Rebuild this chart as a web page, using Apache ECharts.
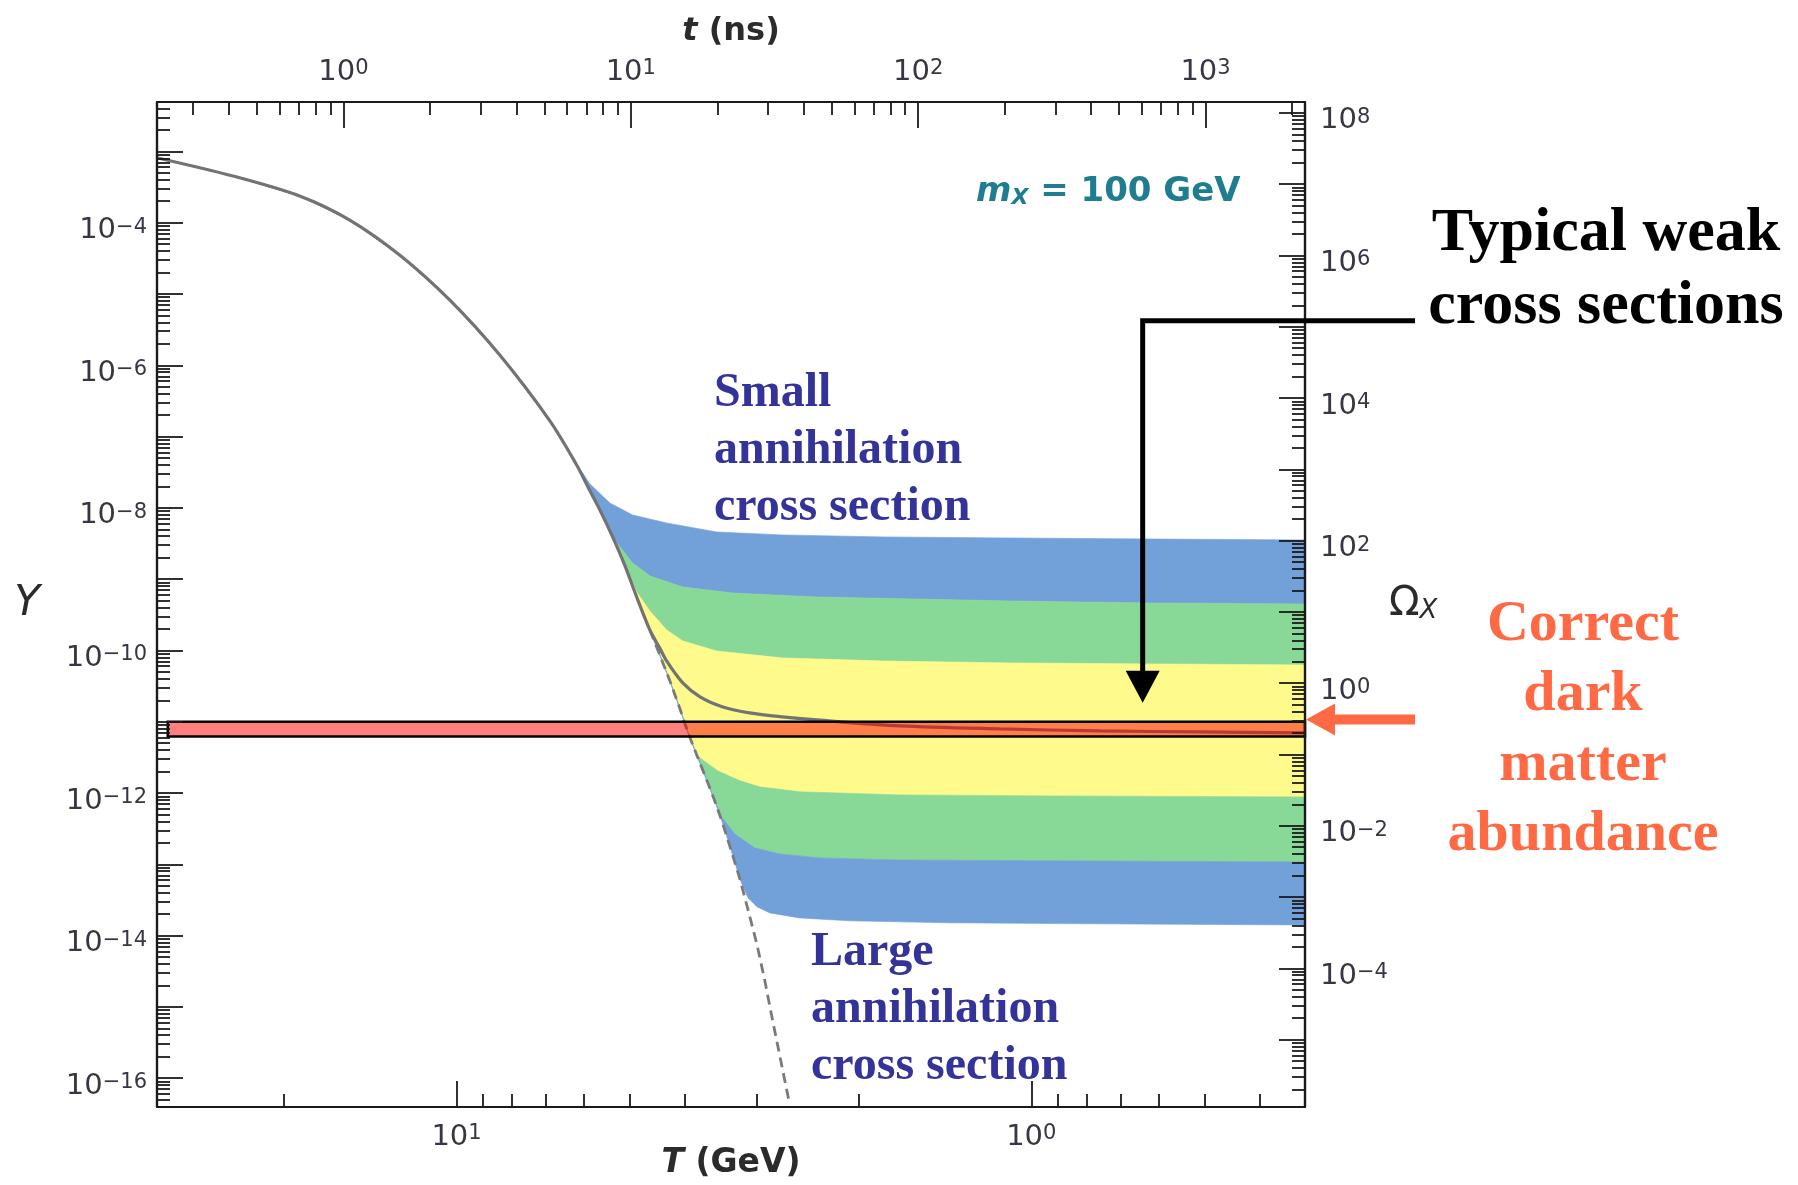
<!DOCTYPE html>
<html>
<head>
<meta charset="utf-8">
<script src="https://cdn.jsdelivr.net/npm/echarts@6/dist/echarts.min.js"></script>
<style>html,body{margin:0;padding:0;background:#fff}#chart{width:1798px;height:1185px}</style>
</head>
<body>
<div id="chart"></div>
<script>
// ---------------- data ----------------
// Equilibrium abundance Y_eq(T): [T (GeV), Y]
const equilibrium = [
  [33.1, 8.08e-4], [24.5, 4.52e-4], [18.75, 2.37e-4], [15.34, 1.09e-4], [12.56, 3.52e-5],
  [10.28, 8.24e-6], [8.41, 1.39e-6], [6.88, 1.66e-7], [6.18, 4.0e-8], [5.87, 1.78e-8],
  [5.63, 9.34e-9], [5.37, 4.17e-9], [5.10, 1.58e-9], [4.86, 5.63e-10], [4.61, 1.94e-10],
  [4.43, 8.65e-11], [4.26, 3.86e-11], [4.09, 1.56e-11], [3.96, 7.19e-12], [3.82, 3.42e-12],
  [3.70, 1.79e-12], [3.57, 8.54e-13], [3.45, 3.93e-13], [3.33, 1.59e-13], [3.21, 6.04e-14],
  [3.11, 2.29e-14], [3.00, 7.41e-15], [2.91, 2.39e-15], [2.82, 6.57e-16], [2.73, 1.81e-16],
  [2.64, 4.80e-17]
];
// Freeze-out tails (after leaving equilibrium), smallest cross section first
const tailC0 = [[6.0,2.9e-8],[5.87,2.2e-8],[5.41,1.17e-8],[4.94,7.95e-9],[4.31,6.14e-9],[3.53,4.59e-9],[2.71,4.17e-9],[1.81,3.91e-9],[1.09,3.78e-9],[0.622,3.66e-9],[0.334,3.55e-9]];
const tailC1 = [[5.26,3.22e-9],[4.94,1.69e-9],[4.61,1.11e-9],[4.04,7.77e-10],[3.31,6.40e-10],[2.36,5.63e-10],[1.09,4.95e-10],[0.622,4.64e-10],[0.334,4.49e-10]];
const tailC2 = [[4.86,6.61e-10],[4.61,3.58e-10],[4.31,1.94e-10],[4.04,1.36e-10],[3.53,9.84e-11],[2.71,7.85e-11],[1.81,7.12e-11],[1.09,6.68e-11],[0.622,6.47e-11],[0.334,6.26e-11]];
const tailC3 = [[4.43,1.08e-10],[4.31,7.12e-11],[4.04,3.50e-11],[3.77,2.23e-11],[3.44,1.61e-11],[3.09,1.33e-11],[2.71,1.17e-11],[2.36,1.06e-11],[1.69,8.73e-12],[1.134,7.93e-12],[0.760,7.43e-12],[0.509,7.19e-12],[0.334,6.96e-12]];
const tailC4 = [[3.73,2.91e-12],[3.51,2.04e-12],[3.21,1.48e-12],[2.97,1.22e-12],[2.53,1.04e-12],[1.69,9.41e-13],[0.928,9.11e-13],[0.334,8.82e-13]];
const tailC5 = [[3.45,4.48e-13],[3.28,2.67e-13],[3.03,1.70e-13],[2.74,1.40e-13],[2.33,1.23e-13],[1.69,1.15e-13],[0.928,1.12e-13],[0.334,1.08e-13]];
const tailC6 = [[3.11,3.38e-14],[3.00,2.53e-14],[2.85,2.08e-14],[2.53,1.77e-14],[2.07,1.61e-14],[1.386,1.51e-14],[0.760,1.46e-14],[0.334,1.41e-14]];
const departureT = 4.61;            // where the highlighted curve leaves equilibrium

// Correct abundance band
const redBandT = [31.8, 0.334];
const redBandY = [1.0e-11, 6.2e-12];

// Annotation anchors (data space)
const weakArrowT = 0.64;
const weakArrowY = [4.2e-6, 1.84e-11];
const abundanceArrowY = 1.07e-11;

// Axes
const TRange = [0.334, 33.2];          // GeV (axis runs high -> low)
const YRange = [3.94e-17, 4.93e-3];
const omegaPerY = 2.88e10;             // Omega_X = omegaPerY * Y
const tAt1GeV = 247.5;                 // t (ns) at T = 1 GeV, t ~ T^-2
const TLabelValues = [1, 10];
const TMinorTicks = [0.4,0.5,0.6,0.7,0.8,0.9,2,3,4,5,6,7,8,9,20];
const tLabelValues = [1, 10, 100, 1000];
const YLabelExps = [-16, -14, -12, -10, -8, -6, -4];
const omegaLabelExps = [-4, -2, 0, 2, 4, 6, 8];

// ---------------- build ----------------
const L = Math.log10;
const toLog = pts => pts.map(p => [L(p[0]), L(p[1])]);
const buildCurve = tail => equilibrium.filter(p => p[0] > tail[0][0]).concat(tail);
const curves = [tailC0, tailC1, tailC2, tailC3, tailC4, tailC5, tailC6].map(buildCurve).map(toLog);
const dashedEq = toLog(equilibrium.filter(p => p[0] <= departureT));

const BLUE = '#72A0D8', GREEN = '#88D898', YELLOW = '#FEFA8C';
const bands = [
  {upper: 0, lower: 1, color: BLUE},
  {upper: 1, lower: 2, color: GREEN},
  {upper: 2, lower: 4, color: YELLOW},
  {upper: 4, lower: 5, color: GREEN},
  {upper: 5, lower: 6, color: BLUE}
];

function logTicks(minLog, maxLog, withMajor) {
  const out = [];
  for (let n = Math.floor(minLog) - 1; n <= Math.ceil(maxLog); n++) {
    const ks = withMajor ? [1] : [2,3,4,5,6,7,8,9];
    ks.forEach(k => { const v = n + L(k); if (v >= minLog - 1e-9 && v <= maxLog + 1e-9) out.push(v); });
  }
  return out;
}

const xMin = L(TRange[0]), xMax = L(TRange[1]);
const yMin = L(YRange[0]), yMax = L(YRange[1]);
const oShift = L(omegaPerY);
const tMin = L(tAt1GeV) - 2 * xMax, tMax = L(tAt1GeV) - 2 * xMin;

const FONT = '"DejaVu Sans", "Noto Sans", sans-serif';
const SERIF = '"Liberation Serif", "Times New Roman", serif';
const LABEL_COLOR = '#363644';
const AXIS_COLOR = '#1a1a1a';
const fmtExp = v => { const n = Math.round(v); return n < 0 ? '\u2212' + (-n) : String(n); };
const richLabel = {
  b: {fontSize: 29, lineHeight: 28, fontFamily: FONT, color: LABEL_COLOR},
  s: {fontSize: 21, lineHeight: 8, verticalAlign: 'top', fontFamily: FONT, color: LABEL_COLOR}
};
const powLabel = v => '{b|10}{s|' + fmtExp(v) + '}';

function axis(opts) {
  const major = opts.major;
  const base = {
    type: 'value', min: opts.min, max: opts.max, inverse: !!opts.inverse, position: opts.position,
    z: 10, scale: true, nameMoveOverlap: false,
    axisLine: {show: true, onZero: false, lineStyle: {color: AXIS_COLOR, width: 2.2}},
    axisTick: {show: true, inside: true, length: major ? 26 : 13, customValues: opts.ticks,
               lineStyle: {color: AXIS_COLOR, width: 1.8}},
    axisLabel: major ? {show: true, customValues: opts.labels, margin: opts.margin, formatter: powLabel,
                        fontSize: 29, fontFamily: FONT, color: LABEL_COLOR,
                        rich: richLabel, padding: opts.labelPadding || 0} : {show: false},
    splitLine: {show: false}, minorTick: {show: false}
  };
  if (opts.name) Object.assign(base, opts.name);
  return base;
}

const NAME_COLOR = '#2b2b2b';
const nameStyle = (size, weight) => ({
  fontFamily: FONT, fontSize: size, fontWeight: weight, color: NAME_COLOR,
  rich: {
    i: {fontFamily: FONT, fontSize: size, fontWeight: weight, fontStyle: 'italic', color: NAME_COLOR},
    sub: {fontFamily: FONT, fontSize: Math.round(size * 0.66), fontStyle: 'italic', color: NAME_COLOR, lineHeight: 4, verticalAlign: 'bottom'}
  }
});

const option = {
  animation: false,
  backgroundColor: '#ffffff',
  grid: {left: 157, top: 102, width: 1148, height: 1005, containLabel: false, outerBoundsMode: 'none'},
  xAxis: [
    axis({major: true, min: xMin, max: xMax, inverse: true, position: 'bottom',
      ticks: TLabelValues.map(L), labels: TLabelValues.map(L), margin: 16,
      name: {name: '{i|T} (GeV)', nameLocation: 'middle', nameGap: 40, nameTextStyle: nameStyle(33, 'bold')}}),
    axis({major: false, min: xMin, max: xMax, inverse: true, position: 'bottom', ticks: TMinorTicks.map(L)}),
    axis({major: true, min: tMin, max: tMax, position: 'top',
      ticks: tLabelValues.map(L), labels: tLabelValues.map(L), margin: 16,
      name: {name: '{i|t} (ns)', nameLocation: 'middle', nameGap: 54, nameTextStyle: nameStyle(32, 'bold')}}),
    axis({major: false, min: tMin, max: tMax, position: 'top', ticks: logTicks(tMin, tMax, false)})
  ],
  yAxis: [
    axis({major: true, min: yMin, max: yMax, position: 'left',
      ticks: logTicks(yMin, yMax, true), labels: YLabelExps, margin: 10, labelPadding: [16, 0, 0, 0],
      name: {name: '{i|Y}', nameLocation: 'middle', nameRotate: 0, nameGap: 117, nameTextStyle: nameStyle(42, 'normal')}}),
    axis({major: false, min: yMin, max: yMax, position: 'left', ticks: logTicks(yMin, yMax, false)}),
    axis({major: true, min: yMin + oShift, max: yMax + oShift, position: 'right',
      ticks: logTicks(yMin + oShift, yMax + oShift, true), labels: omegaLabelExps, margin: 15, labelPadding: [16, 0, 0, 0],
      name: {name: '\u03A9{sub|X}', nameLocation: 'middle', nameRotate: 0, nameGap: 84, nameTextStyle: nameStyle(40, 'normal')}}),
    axis({major: false, min: yMin + oShift, max: yMax + oShift, position: 'right', ticks: logTicks(yMin + oShift, yMax + oShift, false)})
  ],
  series: [
    {
      type: 'custom', name: 'bands', xAxisIndex: 0, yAxisIndex: 0, z: 2, silent: true,
      data: bands.map((b, i) => [0.5, -9, i]), encode: {x: 0, y: 1},
      renderItem: function (params, api) {
        const b = bands[params.dataIndex];
        const up = curves[b.upper].map(p => api.coord(p));
        const lo = curves[b.lower].map(p => api.coord(p)).reverse();
        return {type: 'polygon', shape: {points: up.concat(lo)}, style: {fill: b.color, stroke: b.color, lineWidth: 0.6}};
      }
    },
    {
      type: 'line', name: 'equilibrium (dashed)', xAxisIndex: 0, yAxisIndex: 0, z: 3, data: dashedEq,
      showSymbol: false, silent: true,
      lineStyle: {color: '#7a7a7a', width: 2.8, type: [10, 6]}
    },
    {
      type: 'line', name: 'freeze-out', xAxisIndex: 0, yAxisIndex: 0, z: 3, data: curves[3],
      showSymbol: false, silent: true, smooth: 0.3,
      lineStyle: {color: '#737373', width: 3.2}
    },
    {
      type: 'custom', name: 'correct abundance', xAxisIndex: 0, yAxisIndex: 0, z: 5, silent: true,
      data: [[0.5, -11, 0]], encode: {x: 0, y: 1},
      renderItem: function (params, api) {
        const p0 = api.coord([L(redBandT[0]), L(redBandY[0])]);
        const p1 = api.coord([L(redBandT[1]), L(redBandY[1])]);
        return {type: 'rect',
          shape: {x: Math.min(p0[0], p1[0]), y: Math.min(p0[1], p1[1]),
                  width: Math.abs(p1[0] - p0[0]), height: Math.abs(p1[1] - p0[1])},
          style: {fill: 'rgba(255,0,0,0.5)', stroke: '#000', lineWidth: 2.5}};
      }
    }
  ]
};

const chart = echarts.init(document.getElementById('chart'), null, {renderer: 'canvas'});
chart.setOption(option);

// ---------------- annotations ----------------
const px = (T, Y) => chart.convertToPixel({xAxisIndex: 0, yAxisIndex: 0}, [L(T), L(Y)]);
const aTop = px(weakArrowT, weakArrowY[0]);
const aTip = px(weakArrowT, weakArrowY[1]);
const gridRight = px(TRange[0], 1e-10)[0];
const rTip = px(TRange[0], abundanceArrowY);
const ORANGE = '#FF6A45';
const TEAL = '#1E7D8F';

chart.setOption({
  graphic: [
    // black arrow: "Typical weak cross sections"
    {type: 'polyline', z: 100, shape: {points: [[gridRight + 110, aTop[1]], [aTop[0], aTop[1]], [aTip[0], aTip[1] - 30]]},
     style: {stroke: '#000', lineWidth: 5, fill: null}},
    {type: 'polygon', z: 100, shape: {points: [[aTip[0] - 17, aTip[1] - 32], [aTip[0] + 17, aTip[1] - 32], [aTip[0], aTip[1]]]},
     style: {fill: '#000'}},
    // orange arrow: correct abundance
    {type: 'rect', z: 100, shape: {x: rTip[0] + 28, y: rTip[1] - 5, width: gridRight + 110 - rTip[0] - 28, height: 10}, style: {fill: ORANGE}},
    {type: 'polygon', z: 100, shape: {points: [[rTip[0] + 1, rTip[1]], [rTip[0] + 30, rTip[1] - 16], [rTip[0] + 30, rTip[1] + 16]]}, style: {fill: ORANGE}},
    // texts
    {type: 'text', z: 100, x: 976, y: 192,
     style: {text: '{m|m}{x|X}{r| = 100 GeV}', verticalAlign: 'middle',
       rich: {
         m: {fontFamily: FONT, fontSize: 34, fontWeight: 'bold', fontStyle: 'italic', fill: TEAL, color: TEAL, lineHeight: 34},
         x: {fontFamily: FONT, fontSize: 22, fontWeight: 'bold', fontStyle: 'italic', fill: TEAL, color: TEAL, lineHeight: 4, verticalAlign: 'bottom'},
         r: {fontFamily: FONT, fontSize: 34, fontWeight: 'bold', fill: TEAL, color: TEAL, lineHeight: 34}
       }}},
    {type: 'text', z: 100, x: 714, y: 365,
     style: {text: 'Small\nannihilation\ncross section', font: 'bold 48px ' + SERIF, fill: '#333399',
             lineHeight: 57, verticalAlign: 'top', align: 'left'}},
    {type: 'text', z: 100, x: 811, y: 924,
     style: {text: 'Large\nannihilation\ncross section', font: 'bold 48px ' + SERIF, fill: '#333399',
             lineHeight: 57, verticalAlign: 'top', align: 'left'}},
    {type: 'text', z: 100, x: 1606, y: 197,
     style: {text: 'Typical weak\ncross sections', font: 'bold 62px ' + SERIF, fill: '#000',
             lineHeight: 73, verticalAlign: 'top', align: 'center'}},
    {type: 'text', z: 100, x: 1583, y: 590,
     style: {text: 'Correct\ndark\nmatter\nabundance', font: 'bold 58px ' + SERIF, fill: ORANGE,
             lineHeight: 70, verticalAlign: 'top', align: 'center'}}
  ]
});
</script>
</body>
</html>
